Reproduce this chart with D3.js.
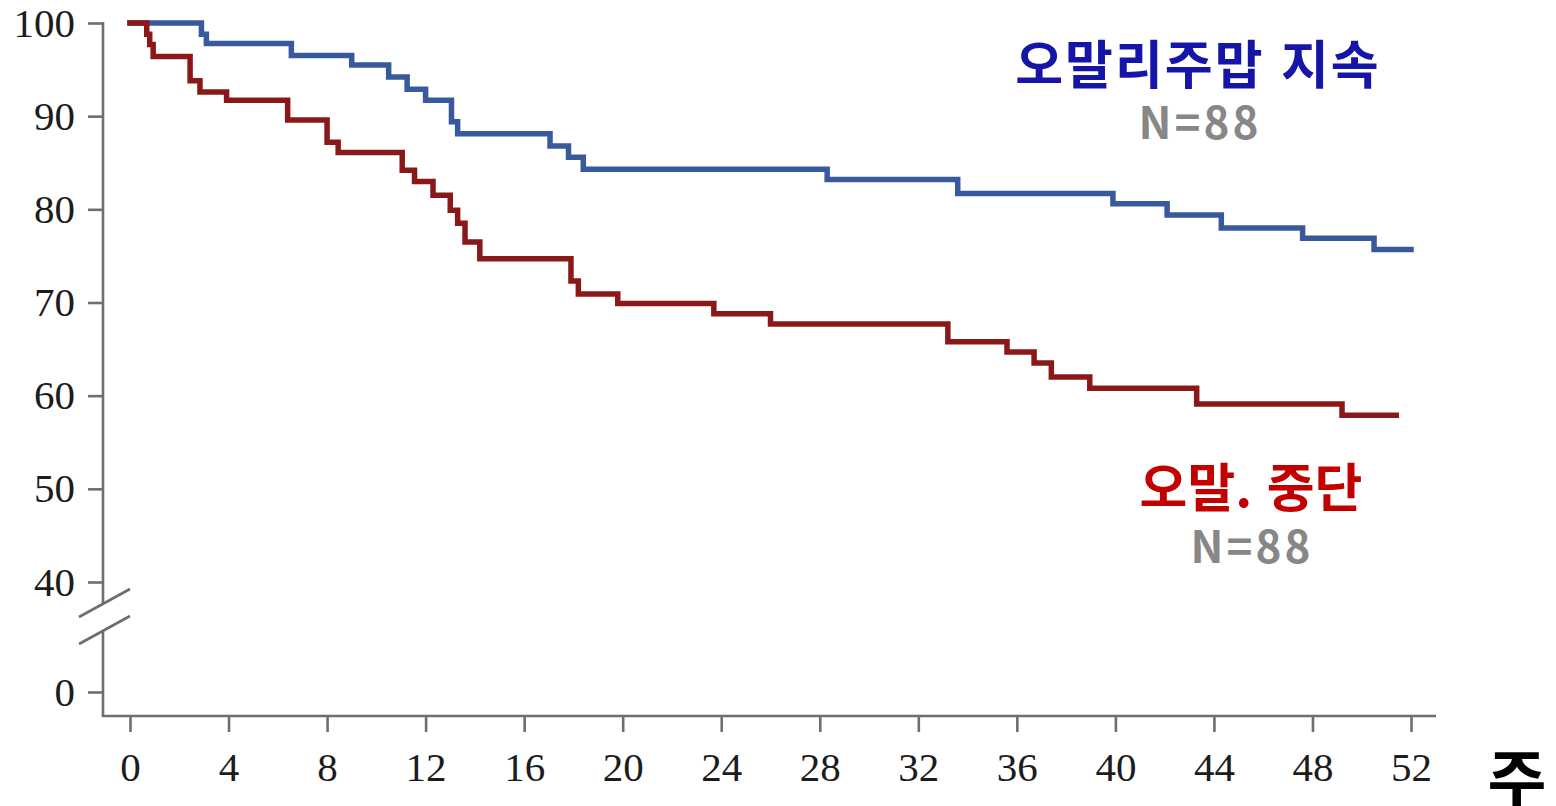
<!DOCTYPE html>
<html lang="ko">
<head>
<meta charset="utf-8">
<script src="https://cdn.jsdelivr.net/npm/d3@7"></script>
<style>
  html, body { margin: 0; padding: 0; background: #ffffff; }
  svg { display: block; }
</style>
</head>
<body>
<svg id="chart" width="1556" height="806"></svg>
<script>
// Kaplan–Meier style survival curves (%, by week)
const contWeeks = [0, 2.9, 3.1, 6.55, 9.0, 10.5, 11.25, 12.0, 13.05, 13.3, 17.05, 17.8, 18.4, 28.3, 33.6, 39.9, 42.1, 44.3, 47.6, 50.5, 52.0];
const contSurv  = [100, 98.8, 97.8, 96.5, 95.5, 94.2, 92.9, 91.7, 89.4, 88.1, 86.8, 85.6, 84.3, 83.2, 81.7, 80.6, 79.4, 78.0, 76.9, 75.7, 75.7];

const stopWeeks = [0, 0.68, 0.8, 0.94, 2.44, 2.84, 3.92, 6.4, 8.0, 8.45, 11.05, 11.55, 12.3, 13.0, 13.3, 13.6, 14.2, 17.9, 18.2, 19.8, 23.7, 26.0, 33.2, 35.6, 36.7, 37.4, 38.96, 43.3, 49.2, 51.4];
const stopSurv  = [100, 98.8, 97.7, 96.4, 93.8, 92.6, 91.7, 89.6, 87.2, 86.1, 84.2, 83.0, 81.5, 79.9, 78.5, 76.5, 74.7, 72.3, 70.9, 69.9, 68.8, 67.7, 65.8, 64.7, 63.5, 62.0, 60.8, 59.1, 57.9, 57.9];

const xTicks = [0, 4, 8, 12, 16, 20, 24, 28, 32, 36, 40, 44, 48, 52];
const yTicks = [0, 40, 50, 60, 70, 80, 90, 100];

const contLabel = "오말리주맙 지속";
const stopLabel = "오말. 중단";
const contN = "N=88";
const stopN = "N=88";
const xUnit = "주";

const svg = d3.select("#chart");

const axisX = 103, axisY = 716;
const x = d3.scaleLinear().domain([0, 52]).range([130, 1411]);
// broken y axis: 0–40 compressed, 40–100 at full scale
const y = d3.scaleLinear().domain([0, 40, 100]).range([692, 582, 23]);

const axisColor = "#6e6e6e";
const serif = "'Liberation Serif', 'DejaVu Serif', serif";

// Y axis
const yAxis = d3.axisLeft(y).tickValues(yTicks).tickSize(15).tickPadding(13).tickSizeOuter(0);
const gy = svg.append("g").attr("transform", `translate(${axisX},0)`).call(yAxis);
gy.select(".domain").remove();
gy.selectAll(".tick line").attr("stroke", axisColor).attr("stroke-width", 2.6);
gy.selectAll(".tick text")
  .attr("font-family", serif).attr("font-size", 41).attr("fill", "#1c1c1c");

// Y axis line with a break between 0 and 40
const breakTop = 604, breakBottom = 631;
svg.append("line").attr("x1", axisX).attr("x2", axisX)
  .attr("y1", y(100) - 1).attr("y2", breakTop)
  .attr("stroke", axisColor).attr("stroke-width", 2.6);
svg.append("line").attr("x1", axisX).attr("x2", axisX)
  .attr("y1", breakBottom).attr("y2", axisY)
  .attr("stroke", axisColor).attr("stroke-width", 2.6);
[breakTop, breakBottom].forEach(cy => {
  svg.append("line")
    .attr("x1", axisX - 24).attr("y1", cy + 13)
    .attr("x2", axisX + 27).attr("y2", cy - 15)
    .attr("stroke", axisColor).attr("stroke-width", 2.6);
});

// X axis
const xAxis = d3.axisBottom(x).tickValues(xTicks).tickSize(16).tickPadding(20).tickSizeOuter(0);
const gx = svg.append("g").attr("transform", `translate(0,${axisY})`).call(xAxis);
gx.select(".domain").remove();
gx.selectAll(".tick line").attr("stroke", axisColor).attr("stroke-width", 2.6);
gx.selectAll(".tick text")
  .attr("font-family", serif).attr("font-size", 41).attr("fill", "#1c1c1c");
svg.append("line").attr("x1", axisX - 1.3).attr("x2", 1436)
  .attr("y1", axisY).attr("y2", axisY)
  .attr("stroke", axisColor).attr("stroke-width", 2.6);

// Survival step curves
const step = d3.line()
  .x(d => x(d[0]))
  .y(d => y(d[1]))
  .curve(d3.curveStepAfter);

const series = [
  { weeks: contWeeks, surv: contSurv, color: "#385a9c" },
  { weeks: stopWeeks, surv: stopSurv, color: "#8b1818" }
];
series.forEach(s => {
  svg.append("path")
    .datum(d3.zip(s.weeks, s.surv))
    .attr("d", step)
    .attr("fill", "none")
    .attr("stroke", s.color)
    .attr("stroke-width", 5.5)
    .attr("stroke-linecap", "square")
    .attr("stroke-linejoin", "miter");
});

// Group labels
const sans = "'Noto Sans CJK KR', 'Noto Sans', sans-serif";
svg.append("text").text(contLabel)
  .attr("x", 1198).attr("y", 84)
  .attr("text-anchor", "middle")
  .attr("font-family", sans).attr("font-weight", 700).attr("font-size", 52)
  .attr("letter-spacing", 2)
  .attr("fill", "#1515a8");
svg.append("text").text(contN)
  .attr("x", 1200).attr("y", 139)
  .attr("text-anchor", "middle")
  .attr("font-family", sans).attr("font-weight", 700).attr("font-size", 44)
  .attr("letter-spacing", 3)
  .attr("fill", "#878787");
svg.append("text").text(stopLabel)
  .attr("x", 1251).attr("y", 507)
  .attr("text-anchor", "middle")
  .attr("font-family", sans).attr("font-weight", 700).attr("font-size", 52)
  .attr("letter-spacing", 0)
  .attr("fill", "#c20000");
svg.append("text").text(stopN)
  .attr("x", 1252).attr("y", 563)
  .attr("text-anchor", "middle")
  .attr("font-family", sans).attr("font-weight", 700).attr("font-size", 44)
  .attr("letter-spacing", 3)
  .attr("fill", "#878787");

// X axis unit
svg.append("text").text(xUnit)
  .attr("x", 1517).attr("y", 803)
  .attr("text-anchor", "middle")
  .attr("font-family", sans).attr("font-weight", 700).attr("font-size", 64)
  .attr("fill", "#000000");
</script>
</body>
</html>
